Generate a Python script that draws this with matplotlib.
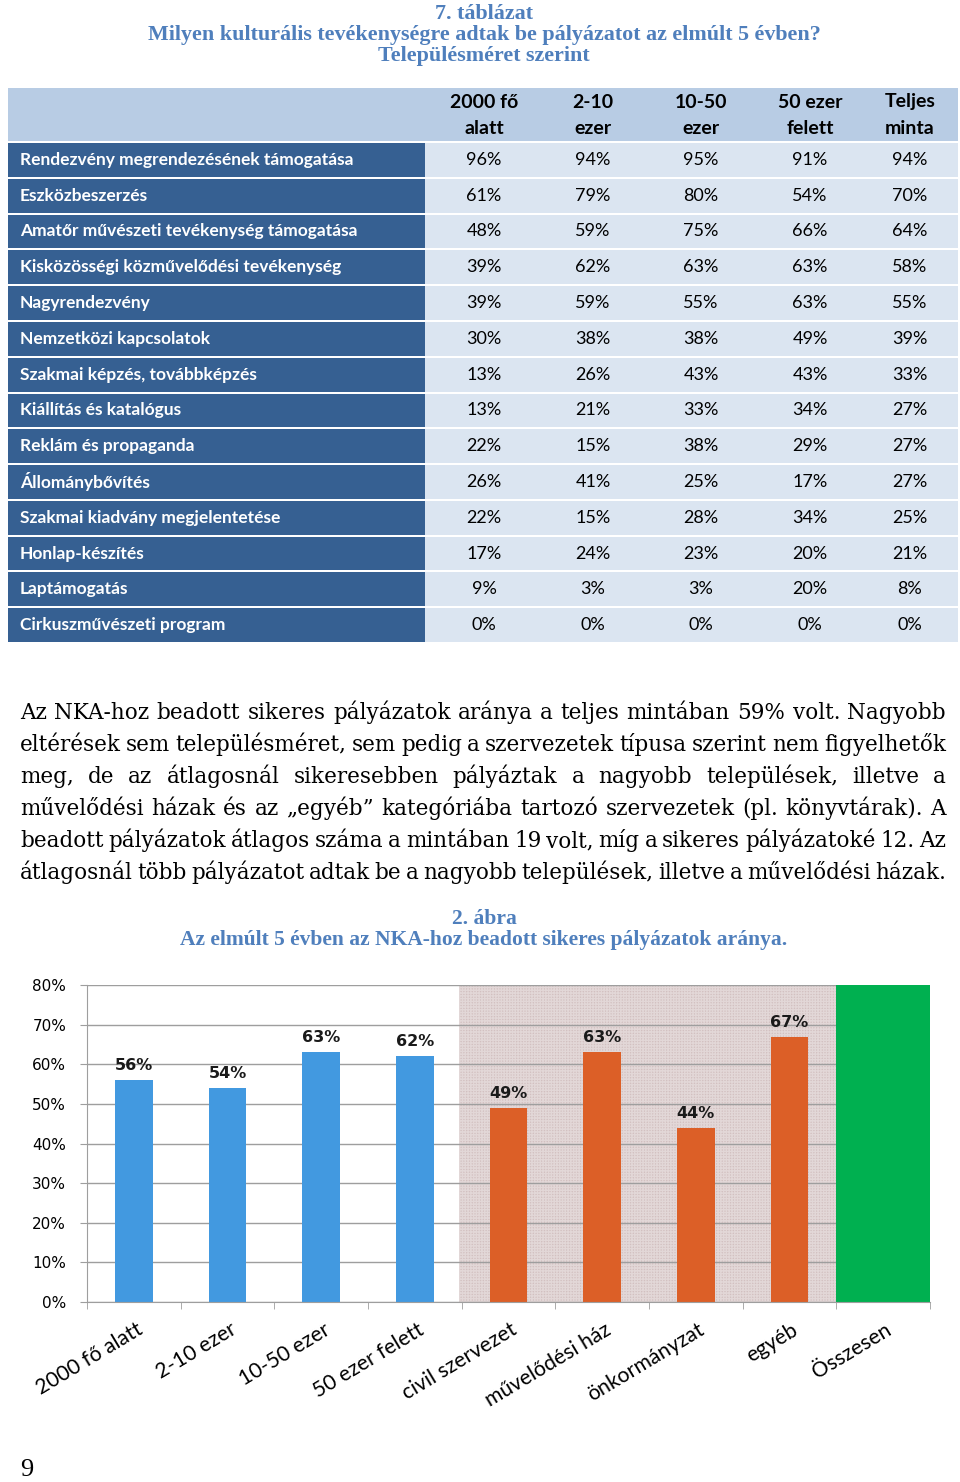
"""Table 7 and figure 2: NKA applications by settlement size and organisation type."""

import matplotlib

matplotlib.use("Agg")
import matplotlib.pyplot as plt
from matplotlib.patches import Rectangle

# --- table data -------------------------------------------------------------
table_title = [
    "7. táblázat",
    "Milyen kulturális tevékenységre adtak be pályázatot az elmúlt 5 évben?",
    "Településméret szerint",
]
column_headers = ["2000 fő\nalatt", "2-10\nezer", "10-50\nezer", "50 ezer\nfelett", "Teljes\nminta"]
activities = [
    "Rendezvény megrendezésének támogatása",
    "Eszközbeszerzés",
    "Amatőr művészeti tevékenység támogatása",
    "Kisközösségi közművelődési tevékenység",
    "Nagyrendezvény",
    "Nemzetközi kapcsolatok",
    "Szakmai képzés, továbbképzés",
    "Kiállítás és katalógus",
    "Reklám és propaganda",
    "Állománybővítés",
    "Szakmai kiadvány megjelentetése",
    "Honlap-készítés",
    "Laptámogatás",
    "Cirkuszművészeti program",
]
pct_under_2000 = [96, 61, 48, 39, 39, 30, 13, 13, 22, 26, 22, 17, 9, 0]
pct_2_10k = [94, 79, 59, 62, 59, 38, 26, 21, 15, 41, 15, 24, 3, 0]
pct_10_50k = [95, 80, 75, 63, 55, 38, 43, 33, 38, 25, 28, 23, 3, 0]
pct_over_50k = [91, 54, 66, 63, 63, 49, 43, 34, 29, 17, 34, 20, 20, 0]
pct_total = [94, 70, 64, 58, 55, 39, 33, 27, 27, 27, 25, 21, 8, 0]

# --- body text --------------------------------------------------------------
paragraph_lines = [
    "Az NKA-hoz beadott sikeres pályázatok aránya a teljes mintában 59% volt. Nagyobb",
    "eltérések sem településméret, sem pedig a szervezetek típusa szerint nem figyelhetők",
    "meg, de az átlagosnál sikeresebben pályáztak a nagyobb települések, illetve a",
    "művelődési házak és az „egyéb” kategóriába tartozó szervezetek (pl. könyvtárak). A",
    "beadott pályázatok átlagos száma a mintában 19 volt, míg a sikeres pályázatoké 12. Az",
    "átlagosnál több pályázatot adtak be a nagyobb települések, illetve a művelődési házak.",
]

# --- chart data -------------------------------------------------------------
chart_title = ["2. ábra", "Az elmúlt 5 évben az NKA-hoz beadott sikeres pályázatok aránya."]
categories = [
    "2000 fő alatt", "2-10 ezer", "10-50 ezer", "50 ezer felett",
    "civil szervezet", "művelődési ház", "önkormányzat", "egyéb", "Összesen",
]
success_rate = [56, 54, 63, 62, 49, 63, 44, 67, 59]
category_group = ["size"] * 4 + ["type"] * 4 + ["total"]
y_ticks = [0, 10, 20, 30, 40, 50, 60, 70, 80]

W, H = 960, 1482
TITLE_BLUE = "#4f7fbc"
DARK_BLUE = "#366092"
HEADER_BLUE = "#b8cce4"
CELL_BLUE = "#dbe5f1"
BAR_COLORS = {"size": "#4299e0", "type": "#dc5f27", "total": "#00b050"}

fig = plt.figure(figsize=(W / 100, H / 100), dpi=100)
fig.patch.set_facecolor("white")

# overlay axes in pixel coordinates for the table and the text
page = fig.add_axes([0, 0, 1, 1])
page.set_xlim(0, W)
page.set_ylim(H, 0)
page.axis("off")

serif = "Liberation Serif"
body_serif = "DejaVu Serif"
sans = "Lato"

for i, line in enumerate(table_title):
    page.text(484, 14 + 21 * i, line, ha="center", va="center", family=serif,
              weight="bold", fontsize=15.8, color=TITLE_BLUE)

# table
left, right = 8, 958
label_right = 425
header_top, header_bottom = 88, 142
row_h = (643 - header_bottom) / len(activities)
col_centers = [484, 593, 701, 810, 910]

page.add_patch(Rectangle((left, header_top), right - left, header_bottom - header_top - 1,
                         facecolor=HEADER_BLUE, edgecolor="none"))
for x, head in zip(col_centers, column_headers):
    top_line, bottom_line = head.split("\n")
    page.text(x, 102, top_line, ha="center", va="center", family=sans,
              weight="bold", fontsize=14, color="black")
    page.text(x, 129, bottom_line, ha="center", va="center", family=sans,
              weight="bold", fontsize=14, color="black")

columns = [pct_under_2000, pct_2_10k, pct_10_50k, pct_over_50k, pct_total]
for r, name in enumerate(activities):
    y0 = header_bottom + r * row_h
    page.add_patch(Rectangle((left, y0 + 1), label_right - left, row_h - 2,
                             facecolor=DARK_BLUE, edgecolor="none"))
    page.add_patch(Rectangle((label_right, y0 + 1), right - label_right, row_h - 2,
                             facecolor=CELL_BLUE, edgecolor="none"))
    yc = y0 + row_h / 2
    page.text(20, yc, name, ha="left", va="center", family=sans, weight="bold",
              fontsize=12.5, color="white")
    for x, col in zip(col_centers, columns):
        page.text(x, yc, f"{col[r]}%", ha="center", va="center", family=sans,
                  fontsize=13, color="black")

# justified paragraph
renderer = fig.canvas.get_renderer()
text_left, text_right = 20, 946
for i, line in enumerate(paragraph_lines):
    baseline = 719 + 32 * i
    words = line.split(" ")
    artists = [page.text(0, baseline, w, ha="left", va="baseline", family=body_serif,
                         fontsize=15.5, color="black") for w in words]
    widths = [a.get_window_extent(renderer).width for a in artists]
    gap = (text_right - text_left - sum(widths)) / (len(words) - 1)
    x = text_left
    for a, w in zip(artists, widths):
        a.set_x(x)
        x += w + gap

for i, line in enumerate(chart_title):
    page.text(484, 919 + 21 * i, line, ha="center", va="center", family=serif,
              weight="bold", fontsize=15.5, color=TITLE_BLUE)

page.text(20, 1470, "9", ha="left", va="center", family=serif, fontsize=19, color="black")

# bar chart
ax = fig.add_axes([87 / W, (H - 1302) / H, (930 - 87) / W, (1302 - 985) / H])
ax.set_facecolor("none")
x_pos = list(range(len(categories)))

type_idx = [i for i, g in enumerate(category_group) if g == "type"]
total_idx = [i for i, g in enumerate(category_group) if g == "total"]
ax.axvspan(type_idx[0] - 0.53, type_idx[-1] + 0.5, facecolor="#d2c0c0",
           edgecolor="#e2d7d7", hatch="++++++", linewidth=0, zorder=0.2)
ax.axvspan(total_idx[0] - 0.5, total_idx[-1] + 0.5, facecolor=BAR_COLORS["total"],
           edgecolor="none", zorder=0.8)

colors = [BAR_COLORS[g] for g in category_group]
bars = ax.bar(x_pos, success_rate, width=0.4, color=colors, zorder=2)
for b, v, g in zip(bars, success_rate, category_group):
    if g == "total":
        continue
    ax.annotate(f"{v}%", (b.get_x() + b.get_width() / 2, v), xytext=(0, 5),
                textcoords="offset points", ha="center", va="bottom",
                family="DejaVu Sans", weight="bold", fontsize=11.5, color="#1a1a1a")

ax.set_xlim(-0.5, len(categories) - 0.5)
ax.set_ylim(0, 80)
ax.set_yticks(y_ticks)
ax.set_yticklabels([f"{t}%" for t in y_ticks], family="DejaVu Sans", fontsize=11)
ax.set_axisbelow(True)
ax.yaxis.grid(True, color="#9e9e9e", linewidth=1, zorder=0.5)
ax.tick_params(axis="y", length=5, color="#9e9e9e", pad=10)
ax.set_xticks(x_pos)
ax.set_xticklabels([])
ax.set_xticks([i - 0.5 for i in range(len(categories) + 1)], minor=True)
ax.tick_params(axis="x", which="major", length=0)
ax.tick_params(axis="x", which="minor", length=5, color="#9e9e9e")
for side in ["top", "right"]:
    ax.spines[side].set_visible(False)
for side in ["left", "bottom"]:
    ax.spines[side].set_color("#9e9e9e")

for i, name in enumerate(categories):
    ax.text(i + 0.02, -0.055, name, transform=ax.get_xaxis_transform(),
            rotation=31, rotation_mode="anchor", ha="right", va="top",
            family=sans, fontsize=15.2, color="black")

fig.savefig("out.png", dpi=100)
